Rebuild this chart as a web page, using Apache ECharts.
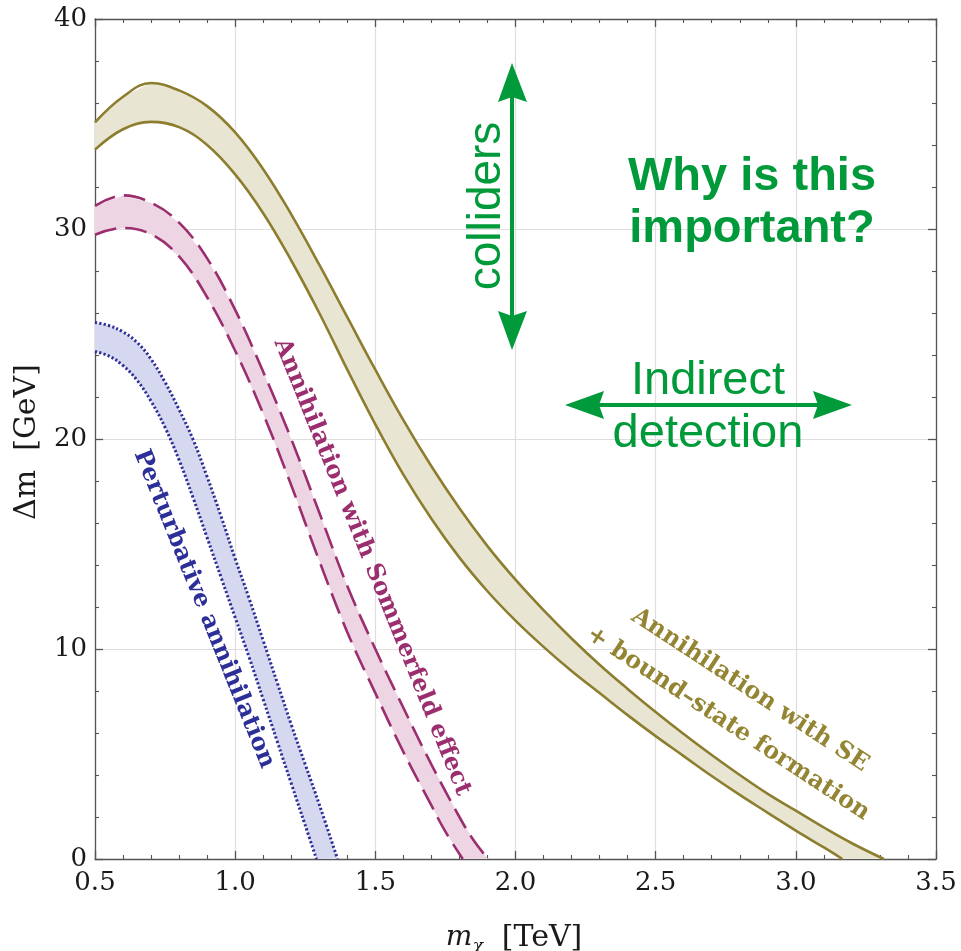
<!DOCTYPE html>
<html>
<head>
<meta charset="utf-8">
<script src="https://cdn.jsdelivr.net/npm/echarts@6/dist/echarts.min.js"></script>
<style>
html,body{margin:0;padding:0;background:#fff;}
#chart{width:961px;height:951px;}
</style>
</head>
<body>
<div id="chart"></div>
<script>
// ---------- data ----------
const xTicks = [0.5, 1.0, 1.5, 2.0, 2.5, 3.0, 3.5];
const yTicks = [0, 10, 20, 30, 40];

// bound-state formation band (olive)
const oliveUpX = [0.5,0.6,0.7,0.8,0.9,1.0,1.1,1.2,1.3,1.4,1.5,1.6,1.7,1.8,1.9,2.0,2.1,2.2,2.3,2.4,2.5,2.6,2.7,2.8,2.9,3.0,3.1,3.2,3.314];
const oliveUpY = [35.08,36.3,36.95,36.6,35.85,34.6,32.85,30.7,28.3,25.8,23.3,20.9,18.7,16.7,14.9,13.3,11.85,10.5,9.25,8.1,7.0,5.95,4.95,4.0,3.1,2.3,1.5,0.75,0];
const oliveLoX = [0.5,0.6,0.7,0.8,0.9,1.0,1.1,1.2,1.3,1.4,1.5,1.6,1.7,1.8,1.9,2.0,2.1,2.2,2.3,2.4,2.5,2.6,2.7,2.8,2.9,3.0,3.1,3.166];
const oliveLoY = [33.78,34.75,35.1,34.85,34.0,32.6,30.75,28.5,26.0,23.3,20.7,18.3,16.2,14.35,12.75,11.35,10.1,8.95,7.9,6.85,5.85,4.9,3.95,3.05,2.2,1.35,0.55,0];

// Sommerfeld band (purple)
const pinkUpX = [0.5,0.6,0.7,0.8,0.9,1.0,1.1,1.2,1.3,1.4,1.5,1.6,1.7,1.8,1.85,1.902];
const pinkUpY = [31.1,31.6,31.25,30.3,28.6,26.15,23.2,20.0,16.5,13.0,10.0,7.2,4.5,2.0,0.9,0];
const pinkLoX = [0.5,0.6,0.7,0.8,0.9,1.0,1.1,1.2,1.3,1.4,1.5,1.6,1.7,1.75,1.812];
const pinkLoY = [29.73,30.05,29.75,28.7,26.75,24.2,21.2,17.8,14.2,10.8,7.9,5.1,2.55,1.3,0];

// perturbative band (blue)
const blueUpX = [0.5,0.55,0.6,0.65,0.7,0.75,0.8,0.85,0.9,0.95,1.0,1.05,1.1,1.15,1.2,1.25,1.3,1.365];
const blueUpY = [25.55,25.4,25.1,24.6,23.8,22.7,21.4,19.97,18.2,16.3,14.3,12.4,10.4,8.4,6.4,4.5,2.6,0];
const blueLoX = [0.5,0.55,0.6,0.65,0.7,0.75,0.8,0.85,0.9,0.95,1.0,1.05,1.1,1.15,1.2,1.25,1.29];
const blueLoY = [24.17,23.95,23.5,22.8,21.8,20.55,19.0,17.2,15.3,13.4,11.5,9.6,7.6,5.6,3.6,1.6,0];

// ---------- styling ----------
const OLIVE = '#8c7e2e', OLIVE_FILL = '#e9e5d3', OLIVE_TEXT = '#938533';
const PINK = '#9b2e6e', PINK_FILL = '#eed5e4';
const BLUE = '#2c2f97', BLUE_FILL = '#d6d8ef';
const GREEN = '#009a3a';
const SERIF = '"DejaVu Serif", serif';
const SANS = '"Liberation Sans", Arial, sans-serif';

const zip = (xs, ys) => xs.map((x, i) => [x, ys[i]]);

function band(upX, upY, loX, loY, fill) {
  const up = zip(upX, upY), lo = zip(loX, loY);
  return {
    type: 'custom',
    coordinateSystem: 'cartesian2d',
    silent: true,
    z: 1,
    data: [[upX[0], upY[0]]],
    renderItem: function (params, api) {
      const pts = up.map(p => api.coord(p)).concat(lo.slice().reverse().map(p => api.coord(p)));
      return { type: 'polygon', shape: { points: pts }, style: { fill: fill, stroke: null } };
    }
  };
}
function curve(xs, ys, color, dash, width) {
  return {
    type: 'line', data: zip(xs, ys), showSymbol: false, symbol: 'none',
    smooth: 0.4, z: 3, silent: true,
    lineStyle: { color: color, width: width, type: dash }
  };
}

const axisLineStyle = { color: '#555', width: 1.3 };
function xAx(pos, labels) {
  return {
    type: 'value', position: pos, min: xTicks[0], max: xTicks[xTicks.length - 1], interval: 0.5,
    axisLine: { show: true, onZero: false, lineStyle: axisLineStyle },
    axisTick: { show: true, inside: true, length: 8, lineStyle: axisLineStyle },
    minorTick: { show: true, splitNumber: 5, length: 4, lineStyle: { color: '#555', width: 1.1 } },
    splitLine: { show: labels, lineStyle: { color: '#dedede', width: 1.2 } },
    axisLabel: { show: labels, margin: 11, fontFamily: SERIF, fontSize: 26, color: '#1a1a1a',
      formatter: v => v.toFixed(1) }
  };
}
function yAx(pos, labels) {
  return {
    type: 'value', position: pos, min: yTicks[0], max: yTicks[yTicks.length - 1], interval: 10,
    axisLine: { show: true, onZero: false, lineStyle: axisLineStyle },
    axisTick: { show: true, inside: true, length: 8, lineStyle: axisLineStyle },
    minorTick: { show: true, splitNumber: 5, length: 4, lineStyle: { color: '#555', width: 1.1 } },
    splitLine: { show: labels, lineStyle: { color: '#dedede', width: 1.2 } },
    axisLabel: { show: labels, margin: 8, fontFamily: SERIF, fontSize: 26, color: '#1a1a1a' }
  };
}

const chart = echarts.init(document.getElementById('chart'), null, { renderer: 'canvas' });
const deg = Math.PI / 180;
const boldSerif = 'bold 24px ' + SERIF;
function txt(x, y, rot, text, font, fill, extra) {
  const style = Object.assign({ text: text, font: font, fill: fill, align: 'center', verticalAlign: 'middle',
    textAlign: 'center', textVerticalAlign: 'middle' }, extra || {});
  return { type: 'text', x: x, y: y, rotation: rot, z: 10, silent: true, style: style };
}

const option = {
  animation: false,
  backgroundColor: '#fff',
  grid: { left: 95, right: 25, top: 19, bottom: 92 },
  xAxis: [xAx('bottom', true), xAx('top', false)],
  yAxis: [yAx('left', true), yAx('right', false)],
  series: [
    band(oliveUpX, oliveUpY, oliveLoX, oliveLoY, OLIVE_FILL),
    band(pinkUpX, pinkUpY, pinkLoX, pinkLoY, PINK_FILL),
    band(blueUpX, blueUpY, blueLoX, blueLoY, BLUE_FILL),
    curve(oliveUpX, oliveUpY, OLIVE, 'solid', 2.6),
    curve(oliveLoX, oliveLoY, OLIVE, 'solid', 2.6),
    curve(pinkUpX, pinkUpY, PINK, [22, 9], 2.6),
    curve(pinkLoX, pinkLoY, PINK, [22, 9], 2.6),
    curve(blueUpX, blueUpY, BLUE, [2.2, 2.2], 3),
    curve(blueLoX, blueLoY, BLUE, [2.2, 2.2], 3)
  ],
  graphic: [
    // axis titles
    txt(27, 442, Math.PI / 2, 'Δm  [GeV]', '30px ' + SERIF, '#1a1a1a'),
    txt(459, 938, 0, 'm', 'italic 28px ' + SERIF, '#1a1a1a'),
    txt(478, 947, 0, 'χ', 'italic 17px ' + SERIF, '#1a1a1a'),
    txt(542, 938, 0, '[TeV]', '30px ' + SERIF, '#1a1a1a'),
    // band labels
    txt(204, 609, -68 * deg, 'Perturbative annihilation', boldSerif, BLUE),
    txt(372, 567, -68 * deg, 'Annihilation with Sommerfeld effect', boldSerif, PINK),
    txt(739, 707, -33.3 * deg, 'Annihilation with SE\n+ bound–state formation', boldSerif, OLIVE_TEXT, { lineHeight: 40 }),
    // green annotations
    txt(752, 203, 0, 'Why is this\nimportant?', 'bold 47px ' + SANS, GREEN, { lineHeight: 52 }),
    txt(487, 206, Math.PI / 2, 'colliders', '46px ' + SANS, GREEN),
    txt(708, 381, 0, 'Indirect', '47px ' + SANS, GREEN),
    txt(708, 434, 0, 'detection', '47px ' + SANS, GREEN),
    // vertical arrow
    { type: 'line', z: 10, silent: true, shape: { x1: 512, y1: 96, x2: 512, y2: 318 }, style: { stroke: GREEN, lineWidth: 4 } },
    { type: 'polygon', z: 10, silent: true, shape: { points: [[512, 63], [527, 102], [512, 97], [498, 102]] }, style: { fill: GREEN } },
    { type: 'polygon', z: 10, silent: true, shape: { points: [[512, 350], [527, 311], [512, 316], [498, 311]] }, style: { fill: GREEN } },
    // horizontal arrow
    { type: 'line', z: 10, silent: true, shape: { x1: 598, y1: 405, x2: 818, y2: 405 }, style: { stroke: GREEN, lineWidth: 4 } },
    { type: 'polygon', z: 10, silent: true, shape: { points: [[565, 405], [604, 391], [599, 405], [604, 419]] }, style: { fill: GREEN } },
    { type: 'polygon', z: 10, silent: true, shape: { points: [[852, 405], [813, 391], [818, 405], [813, 419]] }, style: { fill: GREEN } }
  ]
};
chart.setOption(option);
</script>
</body>
</html>
